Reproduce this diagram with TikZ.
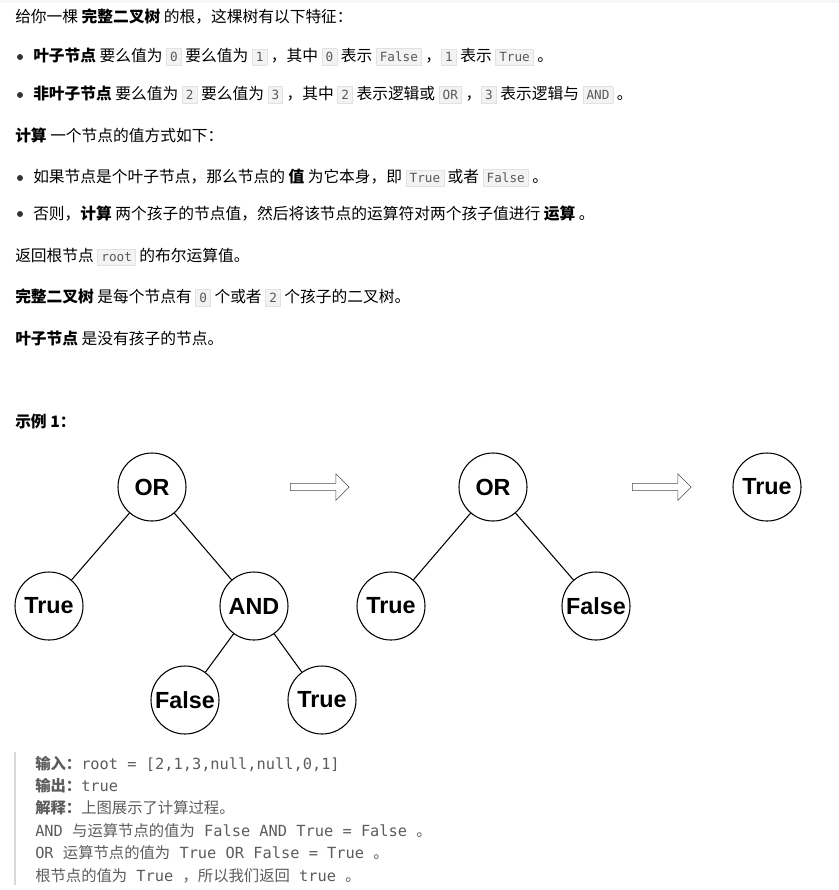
\documentclass[tikz,border=0pt]{standalone}
\usepackage{fontspec}
\setmainfont{Noto Sans CJK SC}
\setmonofont{DejaVu Sans Mono}
\newfontfamily\treefont{Liberation Sans}
\usetikzlibrary{positioning, shapes.arrows}
\definecolor{codebg}{HTML}{F3F3F3}
\definecolor{codeframe}{HTML}{E2E2E2}
\definecolor{quotetext}{HTML}{5C5C5C}
\newcommand{\code}[1]{{\setlength{\fboxsep}{2.5pt}\setlength{\fboxrule}{0.5pt}\fcolorbox{codeframe}{codebg}{\ttfamily\fontsize{9.5}{10}\selectfont\color{black!65}#1}}}
\begin{document}
\begin{tikzpicture}[
    x=0.75pt, y=-0.75pt,
    every node/.style={font=\fontsize{11.8}{13}\selectfont},
    line/.style={anchor=west, inner sep=0pt},
    dot/.style={circle, fill=black!80, inner sep=0pt, minimum size=4.5pt},
    tnode/.style={circle, draw, thick, minimum size=51pt, inner sep=0pt, font=\treefont\bfseries\fontsize{17.5}{18}\selectfont},
    edge/.style={thick},
    hollowarrow/.style={single arrow, draw=black!70, fill=white, minimum height=44pt, minimum width=20pt, single arrow head extend=6pt, inner sep=2pt},
    quote/.style={anchor=west, inner sep=0pt, text=quotetext, font=\ttfamily\fontsize{11.5}{13}\selectfont}
  ]
    \useasboundingbox (0,0) rectangle (839,890);
    \fill[black!3] (0,0) rectangle (839,3);

    % description
    \node[line] (intro) at (15,17) {给你一棵 \textbf{完整二叉树} 的根，这棵树有以下特征：};
    \node[dot] (b1) at (20,57) {};
    \node[line] (leaf) at (33,57) {\textbf{叶子节点} 要么值为 \code{0} 要么值为 \code{1} ，其中 \code{0} 表示 \code{False} ，\code{1} 表示 \code{True} 。};
    \node[dot] (b2) at (20,95) {};
    \node[line] (inner) at (33,95) {\textbf{非叶子节点} 要么值为 \code{2} 要么值为 \code{3} ，其中 \code{2} 表示逻辑或 \code{OR} ，\code{3} 表示逻辑与 \code{AND} 。};
    \node[line] (calc) at (15,135) {\textbf{计算} 一个节点的值方式如下：};
    \node[dot] (b3) at (20,178) {};
    \node[line] (rule1) at (33,178) {如果节点是个叶子节点，那么节点的 \textbf{值} 为它本身，即 \code{True} 或者 \code{False} 。};
    \node[dot] (b4) at (20,214) {};
    \node[line] (rule2) at (33,214) {否则，\textbf{计算} 两个孩子的节点值，然后将该节点的运算符对两个孩子值进行 \textbf{运算} 。};
    \node[line] (ret) at (15,257) {返回根节点 \code{root} 的布尔运算值。};
    \node[line] (full) at (15,298) {\textbf{完整二叉树} 是每个节点有 \code{0} 个或者 \code{2} 个孩子的二叉树。};
    \node[line] (leafdef) at (15,339) {\textbf{叶子节点} 是没有孩子的节点。};
    \node[line] (ex) at (15,422) {\textbf{示例 1：}};

    % trees
    \node[tnode] (or1) at (152,487) {OR};
    \node[tnode] (t1) at (49,606) {True};
    \node[tnode] (and1) at (254,606) {AND};
    \node[tnode] (f1) at (185,700) {False};
    \node[tnode] (t2) at (322,700) {True};
    \draw[edge] (or1) -- (t1);
    \draw[edge] (or1) -- (and1);
    \draw[edge] (and1) -- (f1);
    \draw[edge] (and1) -- (t2);

    \node[hollowarrow] (s1) at (318,487) {};

    \node[tnode] (or2) at (493,487) {OR};
    \node[tnode] (t3) at (391,606) {True};
    \node[tnode] (f2) at (596,606) {False};
    \draw[edge] (or2) -- (t3);
    \draw[edge] (or2) -- (f2);

    \node[hollowarrow] (s2) at (660,487) {};

    \node[tnode] (res) at (767,487) {True};

    % example block
    \draw[black!15, line width=1.5pt] (15,752) -- (15,885);
    \node[quote] (in) at (35,764) {{\rmfamily\bfseries 输入：}root = [2,1,3,null,null,0,1]};
    \node[quote] (out) at (35,786) {{\rmfamily\bfseries 输出：}true};
    \node[quote] (expl) at (35,808) {{\rmfamily\bfseries 解释：}{\rmfamily 上图展示了计算过程。}};
    \node[quote] (l1) at (35,831) {AND {\rmfamily 与运算节点的值为} False AND True = False {\rmfamily 。}};
    \node[quote] (l2) at (35,853) {OR {\rmfamily 运算节点的值为} True OR False = True {\rmfamily 。}};
    \node[quote] (l3) at (35,876) {{\rmfamily 根节点的值为} True {\rmfamily ，所以我们返回} true {\rmfamily 。}};
\end{tikzpicture}
\end{document}
